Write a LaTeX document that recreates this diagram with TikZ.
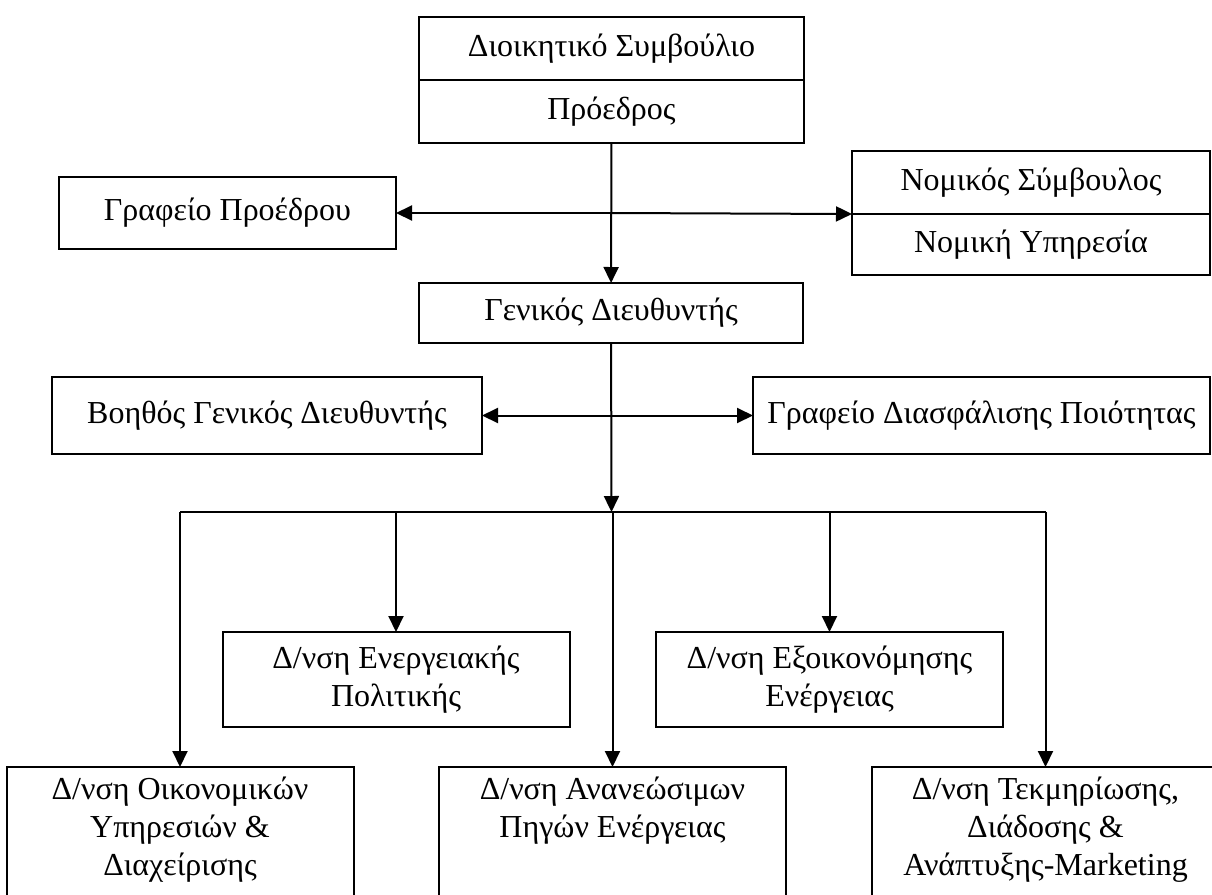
\documentclass[tikz,border=0pt]{standalone}
\usepackage{fontspec}
\setmainfont{Liberation Serif}
\usetikzlibrary{arrows.meta,positioning}

\begin{document}
\begin{tikzpicture}[
    x=0.5pt, y=-0.5pt,
    font=\fontsize{16}{19}\selectfont,
    unit/.style={draw, line width=1pt, outer sep=0pt, inner sep=2pt, align=center},
    dept/.style={unit, minimum width=173.5pt},
    lowdept/.style={dept, anchor=north, inner ysep=5pt, text depth=40pt},
    arrow/.style={-{Triangle[length=8pt,width=7.5pt]}, line width=1pt}
]
\useasboundingbox (0,0) rectangle (1212,895);
\clip (0,0) rectangle (1212,895);

% board and its staff
\node[unit, anchor=north, minimum width=192.5pt, minimum height=31.5pt] (board)
    at (611.5,17) {Διοικητικό Συμβούλιο};
\node[unit, below=0pt of board, minimum width=192.5pt, minimum height=31.5pt] (chair)
    {Πρόεδρος};
\node[unit, minimum width=168.5pt, minimum height=36pt] (office) at (227.5,213)
    {Γραφείο Προέδρου};
\node[unit, anchor=north, minimum width=179pt, minimum height=31.5pt] (counsel)
    at (1031,151) {Νομικός Σύμβουλος};
\node[unit, below=0pt of counsel, minimum width=179pt, minimum height=30.5pt] (legal)
    {Νομική Υπηρεσία};

% general director level
\node[unit, minimum width=192pt, minimum height=30pt] (gendir) at (611,313)
    {Γενικός Διευθυντής};
\node[unit, minimum width=215pt, minimum height=38.5pt] (asst) at (267,415.5)
    {Βοηθός Γενικός Διευθυντής};
\node[unit, minimum width=228.5pt, minimum height=38.5pt] (quality) at (981.5,415.5)
    {Γραφείο Διασφάλισης Ποιότητας};

% directorates
\node[dept, minimum height=47.5pt] (enpol) at (396,679.5)
    {Δ/νση Ενεργειακής\\Πολιτικής};
\node[dept, minimum height=47.5pt] (ensave) at (829.5,679.5)
    {Δ/νση Εξοικονόμησης\\Ενέργειας};
\node[lowdept] (fin) at (180,767) {Δ/νση Οικονομικών\\Υπηρεσιών \&\\Διαχείρισης};
\node[lowdept] (renew) at (612.5,767) {Δ/νση Ανανεώσιμων\\Πηγών Ενέργειας};
\node[lowdept] (docu) at (1045.5,767)
    {Δ/νση Τεκμηρίωσης,\\Διάδοσης \&\\Ανάπτυξης-Marketing};

\coordinate (hub1) at (611.5,213);
\coordinate (hub2) at (611.5,415.5);
\coordinate (bus) at (611.5,512);

\draw[arrow] (chair) -- (gendir);
\draw[arrow] (hub1) -- (office);
\draw[arrow] (hub1) -- (counsel.south west);
\draw[arrow] (gendir) -- (bus);
\draw[arrow] (hub2) -- (asst);
\draw[arrow] (hub2) -- (quality);
\draw[line width=1pt] (fin.north |- bus) -- (docu.north |- bus);
\foreach \d in {fin,enpol,renew,ensave,docu}
    \draw[arrow] (\d.north |- bus) -- (\d.north);
\end{tikzpicture}
\end{document}
